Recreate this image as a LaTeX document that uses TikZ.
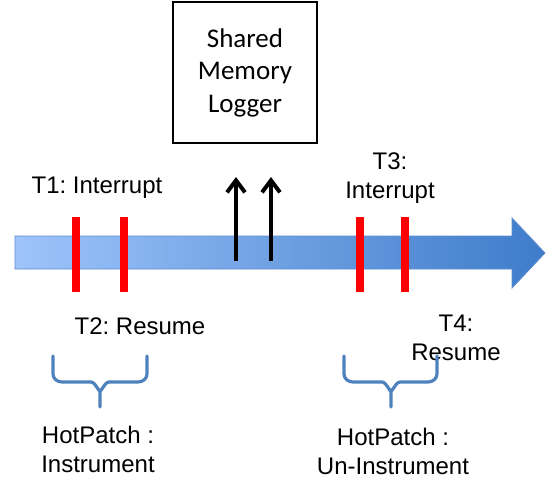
\documentclass[tikz,border=0pt]{standalone}
\usepackage{fontspec}
\setmainfont{Liberation Sans}
\newfontfamily\boxfont{Carlito}
\usetikzlibrary{arrows.meta}
\definecolor{arrowL}{RGB}{158,196,250}
\definecolor{arrowR}{RGB}{62,124,202}
\definecolor{arrowE}{RGB}{95,140,210}
\definecolor{braceC}{RGB}{79,129,189}
\tikzset{
  lbl/.style={inner sep=0pt, align=center, font=\frenchspacing\fontsize{24}{29}\selectfont},
  redbar/.style={draw=red, line width=8pt},
  uparrow/.style={line width=4.5pt, -{Straight Barb[length=12pt,width=18pt,line width=4pt]}},
  bracestyle/.style={draw=braceC, line width=3.2pt, line cap=round, line join=round},
  logger/.style={draw=black, line width=1.3pt, minimum width=144pt, minimum height=141pt, inner sep=0pt, align=center, font=\boxfont\fontsize{27}{32.5}\selectfont}
}
\begin{document}
\begin{tikzpicture}[x=1pt,y=-1pt]
\useasboundingbox (0,0) rectangle (547,488);
% logger box
\node[logger] (log) at (245,72.5) {Shared\\Memory\\Logger};
% timeline arrow
\path[left color=arrowL, right color=arrowR, draw=arrowE, line width=0.8pt]
  (15,236) -- (512,236) -- (512,218) -- (545,253) -- (512,288) -- (512,269) -- (15,269) -- cycle;
% red bars
\coordinate (r1t) at (76,217); \coordinate (r1b) at (76,292);
\coordinate (r2t) at (124,217); \coordinate (r2b) at (124,292);
\coordinate (r3t) at (360,217); \coordinate (r3b) at (360,292);
\coordinate (r4t) at (405,217); \coordinate (r4b) at (405,292);
\draw[redbar] (r1t) -- (r1b);
\draw[redbar] (r2t) -- (r2b);
\draw[redbar] (r3t) -- (r3b);
\draw[redbar] (r4t) -- (r4b);
% black arrows
\coordinate (a1s) at (236,261); \coordinate (a1e) at (236,177);
\coordinate (a2s) at (271,261); \coordinate (a2e) at (271,177);
\draw[uparrow] (a1s) -- (a1e);
\draw[uparrow] (a2s) -- (a2e);
% labels
\node[lbl] (t1) at (97,188) {T1: Interrupt};
\node[lbl] (t3) at (390,178) {T3:\\Interrupt};
\node[lbl] (t2) at (140,326) {T2: Resume};
\node[lbl] (t4) at (456,338) {T4:\\Resume};
% braces
\draw[bracestyle] (53,356) -- (53,374) to[out=-90,in=180] (62,382) -- (91,382) to[out=0,in=-90] (100,390) -- (100,407);
\draw[bracestyle] (100,390) to[out=-90,in=180] (109,382) -- (138,382) to[out=0,in=-90] (147,374) -- (147,356);
\draw[bracestyle] (344,356) -- (344,374) to[out=-90,in=180] (353,382) -- (382,382) to[out=0,in=-90] (391,390) -- (391,407);
\draw[bracestyle] (391,390) to[out=-90,in=180] (400,382) -- (428,382) to[out=0,in=-90] (437,374) -- (437,356);
% bottom labels
\node[lbl] (h1) at (98,449) {HotPatch :\\Instrument};
\node[lbl] (h2) at (393,451) {HotPatch :\\Un-Instrument};
\end{tikzpicture}
\end{document}
